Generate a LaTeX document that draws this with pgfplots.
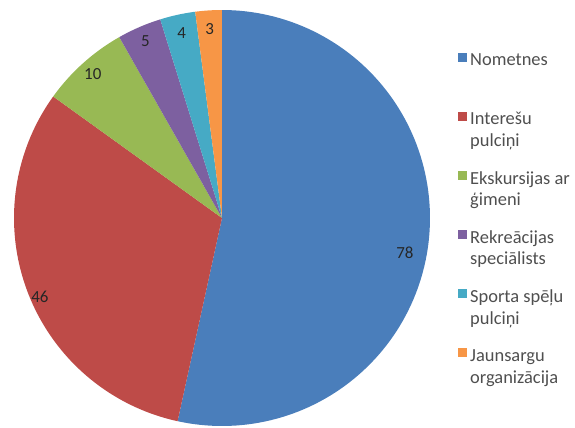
\documentclass[border=0pt]{standalone}
\usepackage{pgfplots}
\pgfplotsset{compat=1.18}
\usepgfplotslibrary{polar}
\usepackage{fontspec}
\setmainfont{Carlito}
\definecolor{cA}{HTML}{4A7EBB}
\definecolor{cB}{HTML}{BE4B48}
\definecolor{cC}{HTML}{98B954}
\definecolor{cD}{HTML}{7D60A0}
\definecolor{cE}{HTML}{46AAC5}
\definecolor{cF}{HTML}{F79646}
\definecolor{legtext}{HTML}{4F4F4F}
% values
\def\vA{78}\def\vB{46}\def\vC{10}\def\vD{5}\def\vE{4}\def\vF{3}
\pgfmathsetmacro\tot{\vA+\vB+\vC+\vD+\vE+\vF}
\pgfmathsetmacro\aA{90}
\pgfmathsetmacro\aB{\aA-\vA/\tot*360}
\pgfmathsetmacro\aC{\aB-\vB/\tot*360}
\pgfmathsetmacro\aD{\aC-\vC/\tot*360}
\pgfmathsetmacro\aE{\aD-\vD/\tot*360}
\pgfmathsetmacro\aF{\aE-\vE/\tot*360}
\pgfmathsetmacro\aG{\aF-\vF/\tot*360}
\pgfmathsetmacro\mC{(\aC+\aD)/2}
\pgfmathsetmacro\mD{(\aD+\aE)/2}
\pgfmathsetmacro\mE{(\aE+\aF)/2}
\pgfmathsetmacro\mF{(\aF+\aG)/2}
\newcommand\two[2]{\strut#1\\\strut#2}
\begin{document}
\begin{tikzpicture}
\path[use as bounding box] (0,0) rectangle (575bp,428bp);
\begin{polaraxis}[
  at={(222bp,210bp)}, anchor=center,
  scale only axis, width=416bp, height=416bp,
  hide axis, clip=false,
  ymin=0, ymax=1,
  legend image code/.code={\fill[#1] (0bp,7.8bp) rectangle (9bp,16.8bp);},
  legend style={
    at={(1.0673,0.903)}, anchor=north west, draw=none, fill=none,
    inner sep=0pt, row sep=20.3bp,
    font=\fontsize{18.5}{22}\selectfont,
    nodes={align=left, text=legtext, inner xsep=3bp, inner ysep=0pt,
           font=\fontsize{18.5}{22}\selectfont},
  },
  legend cell align=left,
]
\addplot[draw=none, fill=cA, domain=\aB:\aA, samples=120] {1} -- (axis cs:0,0) -- cycle;
\addlegendentry{\two{Nometnes}{}}
\addplot[draw=none, fill=cB, domain=\aC:\aB, samples=90] {1} -- (axis cs:0,0) -- cycle;
\addlegendentry{\two{Interešu}{pulciņi}}
\addplot[draw=none, fill=cC, domain=\aD:\aC, samples=30] {1} -- (axis cs:0,0) -- cycle;
\addlegendentry{\two{Ekskursijas ar}{ģimeni}}
\addplot[draw=none, fill=cD, domain=\aE:\aD, samples=20] {1} -- (axis cs:0,0) -- cycle;
\addlegendentry{\two{Rekreācijas}{speciālists}}
\addplot[draw=none, fill=cE, domain=\aF:\aE, samples=20] {1} -- (axis cs:0,0) -- cycle;
\addlegendentry{\two{Sporta spēļu}{pulciņi}}
\addplot[draw=none, fill=cF, domain=\aG:\aF, samples=20] {1} -- (axis cs:0,0) -- cycle;
\addlegendentry{\two{Jaunsargu}{organizācija}}
\begin{scope}[font=\fontsize{17}{19}\selectfont, text=black!85]
\node at (axis cs:-10.8,0.895) {\vA};
\node at (axis cs:203.5,0.955) {\vB};
\node at (axis cs:\mC,0.93) {\vC};
\node at (axis cs:\mD,0.925) {\vD};
\node at (axis cs:\mE,0.91) {\vE};
\node at (axis cs:\mF,0.91) {\vF};
\end{scope}
\end{polaraxis}
\end{tikzpicture}
\end{document}
